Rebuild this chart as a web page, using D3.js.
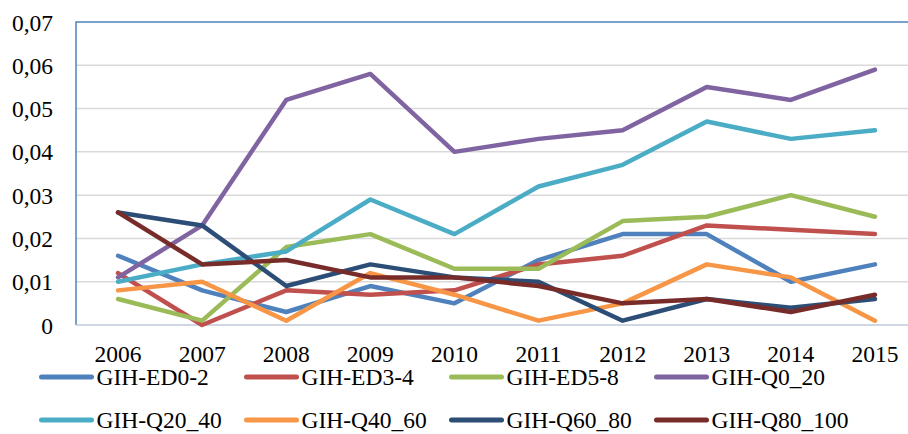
<!DOCTYPE html>
<html>
<head>
<meta charset="utf-8">
<script src="https://cdn.jsdelivr.net/npm/d3@7"></script>
<style>
  body { margin: 0; background: #fff; }
  svg { display: block; font-family: "Liberation Serif", "Times New Roman", serif; }
</style>
</head>
<body>
<svg id="chart" width="908" height="434"></svg>
<script>
const years = ["2006", "2007", "2008", "2009", "2010", "2011", "2012", "2013", "2014", "2015"];
const yTicks = [0, 0.01, 0.02, 0.03, 0.04, 0.05, 0.06, 0.07];

const seriesNames = ["GIH-ED0-2", "GIH-ED3-4", "GIH-ED5-8", "GIH-Q0_20",
                     "GIH-Q20_40", "GIH-Q40_60", "GIH-Q60_80", "GIH-Q80_100"];
const seriesColors = ["#4f81bd", "#c0504d", "#9bbb59", "#8064a2",
                      "#4bacc6", "#f79646", "#2c4d75", "#772c2a"];

const ed0_2   = [0.016, 0.008, 0.003, 0.009, 0.005, 0.015, 0.021, 0.021, 0.010, 0.014];
const ed3_4   = [0.012, 0.000, 0.008, 0.007, 0.008, 0.014, 0.016, 0.023, 0.022, 0.021];
const ed5_8   = [0.006, 0.001, 0.018, 0.021, 0.013, 0.013, 0.024, 0.025, 0.030, 0.025];
const q0_20   = [0.011, 0.023, 0.052, 0.058, 0.040, 0.043, 0.045, 0.055, 0.052, 0.059];
const q20_40  = [0.010, 0.014, 0.017, 0.029, 0.021, 0.032, 0.037, 0.047, 0.043, 0.045];
const q40_60  = [0.008, 0.010, 0.001, 0.012, 0.007, 0.001, 0.005, 0.014, 0.011, 0.001];
const q60_80  = [0.026, 0.023, 0.009, 0.014, 0.011, 0.010, 0.001, 0.006, 0.004, 0.006];
const q80_100 = [0.026, 0.014, 0.015, 0.011, 0.011, 0.009, 0.005, 0.006, 0.003, 0.007];

const seriesValues = [ed0_2, ed3_4, ed5_8, q0_20, q20_40, q40_60, q60_80, q80_100];

const svg = d3.select("#chart");

const plot = { left: 76, right: 917, top: 22, bottom: 325 };

const x = d3.scalePoint().domain(years).range([plot.left, plot.right]).padding(0.5);
const y = d3.scaleLinear().domain([0, 0.07]).range([plot.bottom, plot.top]);

const fmt = (v) => v === 0 ? "0" : d3.format(".2f")(v).replace(".", ",");

// gridlines
svg.append("g")
  .selectAll("line")
  .data(yTicks.filter((t) => t > 0 && t < 0.07))
  .join("line")
  .attr("x1", plot.left).attr("x2", plot.right)
  .attr("y1", (d) => y(d)).attr("y2", (d) => y(d))
  .attr("stroke", "#d9d9d9").attr("stroke-width", 1.5);

// plot border (left + top blue)
svg.append("path")
  .attr("d", `M${plot.left},${plot.bottom}V${plot.top}H${plot.right}`)
  .attr("fill", "none").attr("stroke", "#4f81bd").attr("stroke-width", 1.5);

// x axis line
svg.append("line")
  .attr("x1", plot.left).attr("x2", plot.right)
  .attr("y1", plot.bottom).attr("y2", plot.bottom)
  .attr("stroke", "#bfcadb").attr("stroke-width", 1.5);

// y labels
svg.append("g")
  .selectAll("text")
  .data(yTicks)
  .join("text")
  .attr("x", 53).attr("y", (d) => y(d) + 8.5)
  .attr("text-anchor", "end")
  .attr("font-size", 23.5).attr("fill", "#000")
  .text(fmt);

// x labels
svg.append("g")
  .selectAll("text")
  .data(years)
  .join("text")
  .attr("x", (d) => x(d)).attr("y", 362)
  .attr("text-anchor", "middle")
  .attr("font-size", 23.5).attr("fill", "#000")
  .text((d) => d);

// lines
const line = d3.line()
  .x((d, i) => x(years[i]))
  .y((d) => y(d));

svg.append("g")
  .selectAll("path")
  .data(seriesValues)
  .join("path")
  .attr("d", line)
  .attr("fill", "none")
  .attr("stroke", (d, i) => seriesColors[i])
  .attr("stroke-width", 4.5)
  .attr("stroke-linecap", "round")
  .attr("stroke-linejoin", "round");

// legend
const legendX = [41.5, 246.5, 451.5, 656.5];
const legendY = [377, 420];

const legend = svg.append("g")
  .selectAll("g")
  .data(seriesNames)
  .join("g")
  .attr("transform", (d, i) => `translate(${legendX[i % 4]},${legendY[Math.floor(i / 4)]})`);

legend.append("line")
  .attr("x1", 0).attr("x2", 50)
  .attr("stroke", (d, i) => seriesColors[i])
  .attr("stroke-width", 5)
  .attr("stroke-linecap", "round");

legend.append("text")
  .attr("x", 55).attr("y", 8)
  .attr("font-size", 23.5).attr("fill", "#000")
  .text((d) => d);
</script>
</body>
</html>
